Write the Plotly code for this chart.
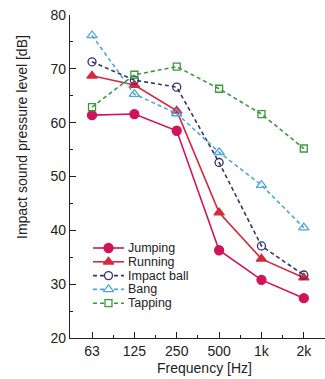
import plotly.graph_objects as go

categories = ["63", "125", "250", "500", "1k", "2k"]
jumping = [61.4, 61.6, 58.5, 36.3, 30.8, 27.4]
running = [68.7, 67.0, 62.2, 43.3, 34.7, 31.2]
impact_ball = [71.3, 67.9, 66.6, 52.6, 37.1, 31.7]
bang = [76.2, 65.3, 61.7, 54.5, 48.4, 40.5]
tapping = [62.9, 68.9, 70.4, 66.3, 61.6, 55.2]

x = list(range(len(categories)))

series = [
    ("Jumping", jumping, "#d0145c", "solid", "circle", 9),
    ("Running", running, "#d42a3c", "solid", "triangle-up", 9),
    ("Impact ball", impact_ball, "#33336e", "4px,3px", "circle-open", 8),
    ("Bang", bang, "#4fa6d8", "4px,3px", "triangle-up-open", 9),
    ("Tapping", tapping, "#3a9a3a", "4px,3px", "square-open", 7),
]

# legend layout (pixel coordinates of overlay axes)
W, H = 325, 379
ML, MR, MT, MB = 70, 0, 15, 41
leg_x0, leg_x1, leg_text_x = 93, 124, 126
leg_top, leg_step = 248, 13.8

fig = go.Figure()
annotations = []
for i, (name, vals, color, dash, sym, size) in enumerate(series):
    fig.add_trace(go.Scatter(
        x=x, y=vals, name=name, mode="lines+markers", showlegend=False,
        line=dict(color=color, width=1.6, dash=dash),
        marker=dict(symbol=sym, size=size, color=color,
                    line=dict(color=color, width=1.3)),
    ))
    ly = leg_top + i * leg_step
    fig.add_trace(go.Scatter(
        x=[leg_x0, (leg_x0 + leg_x1) / 2, leg_x1], y=[ly, ly, ly],
        xaxis="x2", yaxis="y2", mode="lines", showlegend=False, hoverinfo="skip",
        line=dict(color=color, width=1.6, dash=dash),
    ))
    msym = sym.replace("-open", "")
    fig.add_trace(go.Scatter(
        x=[(leg_x0 + leg_x1) / 2], y=[ly],
        xaxis="x2", yaxis="y2", mode="markers", showlegend=False, hoverinfo="skip",
        marker=dict(symbol=msym, size=size, color="white" if "open" in sym else color,
                    line=dict(color=color, width=1.3)),
    ))
    annotations.append(dict(
        x=leg_text_x, y=ly, xref="x2", yref="y2", text=name, showarrow=False,
        xanchor="left", yanchor="middle", font=dict(size=12.5, color="#222"),
    ))

annotations.append(dict(
    x=(22 - ML) / (W - ML - MR), y=(H - MB - 137) / (H - MB - MT),
    xref="paper", yref="paper", text="Impact sound pressure level [dB]",
    textangle=-90, showarrow=False, xanchor="center", yanchor="middle",
    font=dict(size=14, color="#222"),
))
annotations.append(dict(
    x=(204 - ML) / (W - ML - MR), y=-(368 - (H - MB)) / (H - MB - MT),
    xref="paper", yref="paper", text="Frequency [Hz]",
    showarrow=False, xanchor="center", yanchor="middle",
    font=dict(size=14, color="#222"),
))

fig.update_layout(
    width=W, height=H,
    margin=dict(l=ML, r=MR, t=MT, b=MB),
    paper_bgcolor="white", plot_bgcolor="white",
    font=dict(family="Arial, Liberation Sans, sans-serif", size=14, color="#222"),
    showlegend=False,
    annotations=annotations,
    xaxis=dict(
        range=[-0.52, 5.5], tickvals=x, ticktext=categories,
        showline=True, linecolor="#222", linewidth=1.2,
        ticks="inside", ticklen=6, tickcolor="#222",
        minor=dict(dtick=0.5, tick0=-0.5, ticks="inside", ticklen=3, tickcolor="#222"),
        showgrid=False, zeroline=False,
    ),
    yaxis=dict(
        range=[20, 80], dtick=10, tick0=20,
        showline=True, linecolor="#222", linewidth=1.2,
        ticks="inside", ticklen=6, tickcolor="#222",
        minor=dict(dtick=5, ticks="inside", ticklen=3, tickcolor="#222"),
        showgrid=False, zeroline=False,
    ),
    xaxis2=dict(range=[ML, W - MR], overlaying="x", visible=False, fixedrange=True),
    yaxis2=dict(range=[H - MB, MT], overlaying="y", visible=False, fixedrange=True),
)

fig.write_html("out.html")
